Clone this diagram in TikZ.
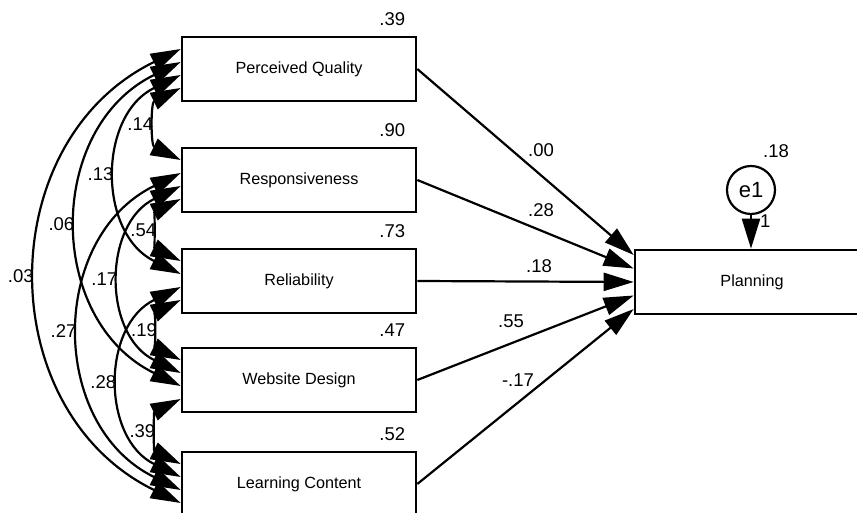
\documentclass[tikz,border=0pt]{standalone}
\usepackage{fontspec}
\setmainfont{Liberation Sans}
\usetikzlibrary{arrows.meta}

\begin{document}
\begin{tikzpicture}[x=1pt, y=1pt,
	>={Triangle[length=30pt, width=18pt]},
	var/.style={draw, line width=2.6pt, minimum width=234pt, minimum height=64pt, inner sep=0pt, font=\fontsize{16.2}{19}\selectfont},
	err/.style={draw, circle, line width=2.2pt, minimum size=48pt, inner sep=0pt, font=\fontsize{22}{24}\selectfont},
	num/.style={inner sep=0pt, font=\fontsize{18.5}{22}\selectfont},
	reg/.style={line width=2.2pt, ->},
	cov/.style={line width=2.2pt, <->, bend right=64, looseness=1.19}]
	
		\newcommand{\xl}{299}
		\useasboundingbox (0,0) rectangle (857,513);
	
		\node[var] (pq) at (\xl,444) {Perceived Quality};
		\node[var] (rs) at (\xl,333) {Responsiveness};
		\node[var] (rl) at (\xl,232) {Reliability};
		\node[var] (wd) at (\xl,133) {Website Design};
		\node[var] (lc) at (\xl,29) {Learning Content};
		\node[var] (pl) at (752,231) {Planning};
		\node[err] (e1) at (751,323) {e1};
		
		% squared multiple correlations
		\foreach \b/\val in {pq/.39, rs/.90, rl/.73, wd/.47, lc/.52}
			\node[num, anchor=base east] (r-\b) at ([xshift=-12pt, yshift=10pt]\b.north east) {\val};
		\node[num, anchor=base west] (r-pl) at ([xshift=12pt, yshift=32pt]e1.center) {.18};
		
		% ends of the arcs on the left edges
		\foreach \b in {pq,rs,rl,wd,lc}
			\foreach \k/\dy in {0/20, 1/7, 2/-6, 3/-19}
				\coordinate (\b-\k) at ([yshift=\dy pt]\b.west);
		\foreach \k/\dy in {1/27, 2/13.5, 3/0, 4/-13.5, 5/-27}
			\coordinate (pl-\k) at ([yshift=\dy pt]pl.west);
		
		% regression weights
		\foreach \b/\k/\val/\lx/\ly in {pq/1/.00/541/363, rs/2/.28/541/303, rl/3/.18/539/247, wd/4/.55/511/192, lc/5/-.17/518/133}{
			\draw[reg] (\b.east) -- (pl-\k);
			\node[num] (w-\b) at (\lx,\ly) {\val};
		}
		\draw[reg] (e1) -- (e1 |- pl.north);
		\node[num, anchor=base west] (one) at ([xshift=9pt, yshift=-38pt]e1.center) {1};
		
		% covariances
		\foreach \s/\e/\val in {pq-3/rs-0/.14, pq-2/rl-1/.13, pq-1/wd-2/.06, pq-0/lc-3/.03, rs-3/rl-0/.54, rs-2/wd-1/.17, rs-1/lc-2/.27, rl-3/wd-0/.19, rl-2/lc-1/.28, wd-3/lc-0/.39}
			\draw[cov] (\s) to node[num, midway, left=4pt] {\val} (\e);
	
	\end{tikzpicture}
\end{document}
